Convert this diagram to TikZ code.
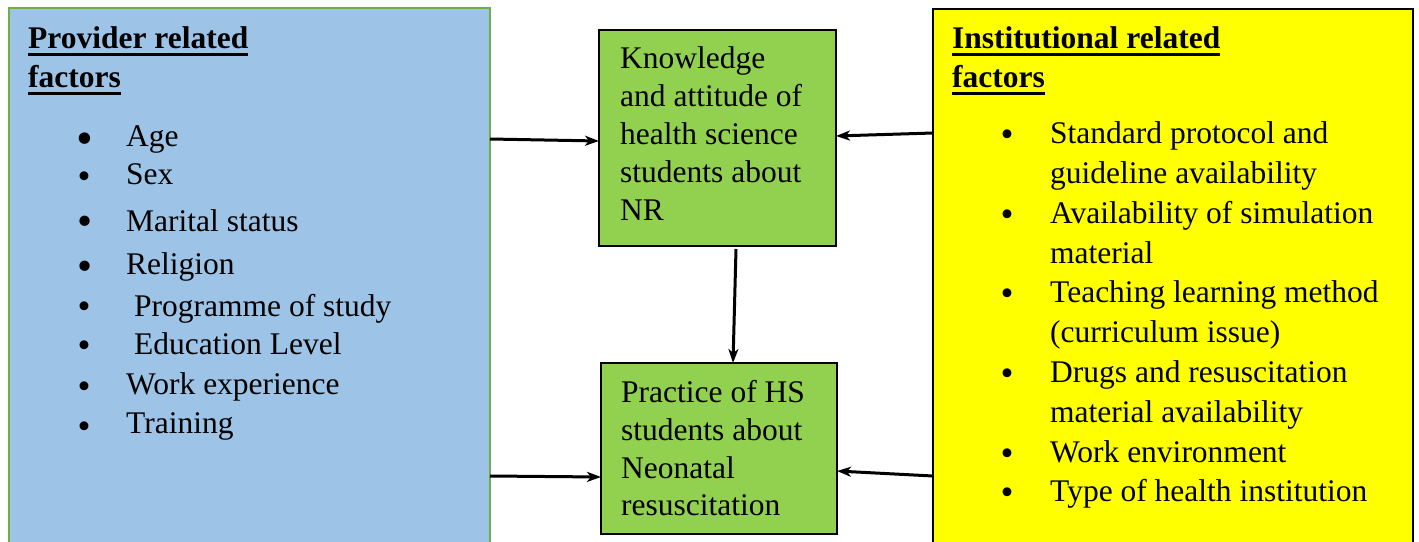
\documentclass[tikz,border=0pt]{standalone}
\usepackage{fontspec}
\setmainfont{Liberation Serif}
\usetikzlibrary{arrows.meta,calc}
\definecolor{provblue}{HTML}{9DC3E6}
\definecolor{provgreen}{HTML}{70AD47}
\definecolor{boxgreen}{HTML}{92D050}
\definecolor{instyellow}{HTML}{FFFF00}
\newcommand\ulbf[1]{\setbox0\hbox{\bfseries #1}\rlap{\rule[-7.5pt]{\wd0}{3pt}}\box0}
\newcommand\bult{\smash{\textbullet}}
\begin{document}
\begin{tikzpicture}[x=1pt,y=-1pt,
  txt/.style={anchor=base west,inner sep=0pt,font=\fontsize{31.5}{38}\selectfont},
  bul/.style={anchor=base,inner sep=0pt},
  bigbul/.style={bul,font=\fontsize{48}{48}\selectfont},
  midbul/.style={bul,font=\fontsize{43}{43}\selectfont},
  smallbul/.style={bul,font=\fontsize{37}{37}\selectfont},
  panel/.style={anchor=north west,inner sep=0pt,outer sep=0pt},
  arr/.style={line width=3pt,-{Stealth[length=14pt,width=10pt,inset=4pt]}},
]
\clip (0,0) rectangle (1419,541);
% panels
\node[panel,draw=provgreen,line width=2pt,fill=provblue,minimum width=481pt,minimum height=560pt] (prov) at (9,8) {};
\node[panel,draw=black,line width=2.5pt,fill=instyellow,minimum width=480pt,minimum height=560pt] (inst) at (933,9) {};
\node[panel,draw=black,line width=1.5pt,fill=boxgreen,minimum width=237pt,minimum height=216pt] (know) at (599,30) {};
\node[panel,draw=black,line width=1.5pt,fill=boxgreen,minimum width=236pt,minimum height=171pt] (pract) at (601,363) {};
% provider headings
\node[txt] (provh1) at (28,48) {\ulbf{Provider related}};
\node[txt] (provh2) at (28,87) {\ulbf{factors}};
% provider list
\foreach \y/\x/\t [count=\i] in {146/126/Age,184/126/Sex,231/126/Marital status,274/126/Religion,316/134/Programme of study,354/134/Education Level,394/126/Work experience,433/126/Training}
  \node[txt] (pl\i) at (\x,\y) {\t};
\node[bigbul] (pb1) at (85,154) {\bult};
\node[smallbul] (pb2) at (84,188) {\bult};
\node[midbul] (pb3) at (85,235) {\bult};
\node[midbul] (pb4) at (85,280) {\bult};
\foreach \y [count=\i from 5] in {318,357.5,398,438}
  \node[smallbul] (pb\i) at (84,\y) {\bult};
% institutional headings
\node[txt] (insth1) at (952,48) {\ulbf{Institutional related}};
\node[txt] (insth2) at (952,87) {\ulbf{factors}};
% institutional list
\foreach \y/\t [count=\i] in {143/Standard protocol and,183/guideline availability,223/Availability of simulation,263/material,302/Teaching learning method,342/(curriculum issue),382/Drugs and resuscitation,422/material availability,462/Work environment,501/Type of health institution}
  \node[txt] (il\i) at (1050,\y) {\t};
\foreach \y [count=\i] in {143,223,302,382,462,501}
  \node[smallbul] (ib\i) at (1007,\y+3.5) {\bult};
% knowledge box text
\foreach \y/\t [count=\i] in {68/Knowledge,106/and attitude of,144/health science,182/students about,220/NR}
  \node[txt] (kt\i) at (620,\y) {\t};
% practice box text
\foreach \y/\t [count=\i] in {402/Practice of HS,440/students about,478/Neonatal,515/resuscitation}
  \node[txt] (pt\i) at (621,\y) {\t};
% connectors
\draw[arr] (prov.east |- 0,139) -- (know.west |- 0,141);
\draw[arr] (inst.west |- 0,133) -- (know.east |- 0,136);
\draw[arr] (736,0 |- 0,249) -- (733,0 |- pract.north);
\draw[arr] (prov.east |- 0,476) -- (pract.west |- 0,477);
\draw[arr] (inst.west |- 0,476) -- (pract.east |- 0,471);
\end{tikzpicture}
\end{document}
